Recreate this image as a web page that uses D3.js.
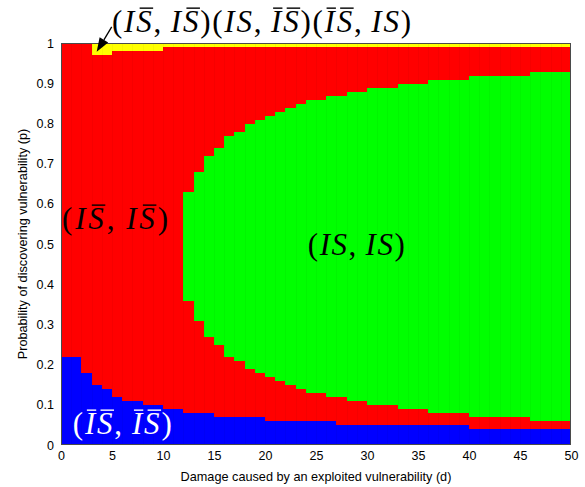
<!DOCTYPE html>
<html>
<head>
<meta charset="utf-8">
<script src="https://cdn.jsdelivr.net/npm/d3@7"></script>
<style>
    body { margin: 0; background: #fff; }
    .axis text { font-family: "Liberation Sans", Arial, sans-serif; font-size: 12.5px; fill: #000; }
    .axis-label { font-family: "Liberation Sans", Arial, sans-serif; font-size: 12.7px; fill: #000; }
    .math { font-family: "Liberation Serif", "Times New Roman", serif; font-size: 31px; white-space: pre; }
</style>
</head>
<body>
<div id="region-chart" style="width:585px;height:487px;"></div>
<script>

// damage d (left edge of each cell, cells are 1 unit wide)
const damage = [0, 1, 2, 3, 4, 5, 6, 7, 8, 9,
    10, 11, 12, 13, 14, 15, 16, 17, 18, 19,
    20, 21, 22, 23, 24, 25, 26, 27, 28, 29,
    30, 31, 32, 33, 34, 35, 36, 37, 38, 39,
    40, 41, 42, 43, 44, 45, 46, 47, 48, 49];

// upper edge of the (I-bar S-bar, I-bar S-bar) region
const blueTop = [0.22, 0.22, 0.18, 0.15, 0.14, 0.12, 0.11, 0.11, 0.10, 0.10,
    0.09, 0.09, 0.08, 0.08, 0.08, 0.07, 0.07, 0.07, 0.07, 0.07,
    0.06, 0.06, 0.06, 0.06, 0.06, 0.06, 0.06, 0.05, 0.05, 0.05,
    0.05, 0.05, 0.05, 0.05, 0.05, 0.05, 0.05, 0.05, 0.05, 0.05,
    0.04, 0.04, 0.04, 0.04, 0.04, 0.04, 0.04, 0.04, 0.04, 0.04];

// lower / upper edge of the (IS, IS) region
const greenBottom = [null, null, null, null, null, null, null, null, null, null,
    null, null, 0.36, 0.31, 0.27, 0.25, 0.22, 0.21, 0.19, 0.18,
    0.17, 0.16, 0.15, 0.14, 0.13, 0.13, 0.12, 0.12, 0.11, 0.11,
    0.10, 0.10, 0.10, 0.09, 0.09, 0.09, 0.08, 0.08, 0.08, 0.08,
    0.07, 0.07, 0.07, 0.07, 0.07, 0.07, 0.06, 0.06, 0.06, 0.06];

const greenTop = [null, null, null, null, null, null, null, null, null, null,
    null, null, 0.63, 0.68, 0.72, 0.74, 0.77, 0.78, 0.80, 0.81,
    0.82, 0.83, 0.84, 0.85, 0.86, 0.86, 0.87, 0.87, 0.88, 0.88,
    0.89, 0.89, 0.89, 0.90, 0.90, 0.90, 0.91, 0.91, 0.91, 0.91,
    0.92, 0.92, 0.92, 0.92, 0.92, 0.92, 0.93, 0.93, 0.93, 0.93];

// lower edge of the mixed-equilibria strip at p close to 1
const yellowBottom = [1, 1, 1, 0.97, 0.97, 0.98, 0.98, 0.98, 0.98, 0.98,
    0.99, 0.99, 0.99, 0.99, 0.99, 0.99, 0.99, 0.99, 0.99, 0.99,
    0.99, 0.99, 0.99, 0.99, 0.99, 0.99, 0.99, 0.99, 0.99, 0.99,
    0.99, 0.99, 0.99, 0.99, 0.99, 0.99, 0.99, 0.99, 0.99, 0.99,
    0.99, 0.99, 0.99, 0.99, 0.99, 0.99, 0.99, 0.99, 0.99, 0.99];

const xTicks = [0, 5, 10, 15, 20, 25, 30, 35, 40, 45, 50];
const yTicks = [0, 0.1, 0.2, 0.3, 0.4, 0.5, 0.6, 0.7, 0.8, 0.9, 1];

// region labels, "~" puts a bar over the next letter
const regionLabels = [
    {text: "(I~S,\u2009I~S)(IS,\u2009~I~S)(~I~S,\u2009IS)", d: 5.0, p: 1.027, width: 299, fill: "#000"},
    {text: "(I~S,\u2009I~S)", d: 0.1, p: 0.537, width: 106, fill: "#000"},
    {text: "(IS,\u2009IS)", d: 24.2, p: 0.473, width: 97, fill: "#000"},
    {text: "(~I~S,\u2009~I~S)", d: 1.15, p: 0.027, width: 99, fill: "#fff"}
];


class RegionVis {

    constructor(parentElement) {
        this.parentElement = parentElement;
        this.colors = {blue: "#0000ff", red: "#ff0000", green: "#00ff00", yellow: "#ffff00"};
        this.initVis();
    }

    initVis() {
        let vis = this;

        vis.margin = {top: 43, right: 14, bottom: 42, left: 61};
        vis.width = 585 - vis.margin.left - vis.margin.right;
        vis.height = 487 - vis.margin.top - vis.margin.bottom;

        vis.svg = d3.select("#" + vis.parentElement).append("svg")
            .attr("width", vis.width + vis.margin.left + vis.margin.right)
            .attr("height", vis.height + vis.margin.top + vis.margin.bottom)
            .append("g")
            .attr("transform", `translate(${vis.margin.left}, ${vis.margin.top})`);

        vis.x = d3.scaleLinear().domain([0, 50]).range([0, vis.width]);
        vis.y = d3.scaleLinear().domain([0, 1]).range([vis.height, 0]);

        vis.xAxis = d3.axisBottom(vis.x).tickValues(xTicks).tickSize(0).tickPadding(6)
            .tickFormat(d => String(d));
        vis.yAxis = d3.axisLeft(vis.y).tickValues(yTicks).tickSize(0).tickPadding(7)
            .tickFormat(d => String(d));

        vis.wrangleData();
    }

    wrangleData() {
        let vis = this;

        // stack the regions of each column from p = 0 to p = 1
        vis.cells = [];
        damage.forEach((d, i) => {
            let edges = [{p: 0, color: "blue"}, {p: blueTop[i], color: "red"}];
            if (greenBottom[i] !== null) {
                edges.push({p: greenBottom[i], color: "green"});
                edges.push({p: greenTop[i], color: "red"});
            }
            edges.push({p: yellowBottom[i], color: "yellow"});
            edges.push({p: 1, color: null});

            for (let k = 0; k < edges.length - 1; k++) {
                if (edges[k + 1].p > edges[k].p) {
                    vis.cells.push({d: d, p0: edges[k].p, p1: edges[k + 1].p, color: edges[k].color});
                }
            }
        });

        vis.updateVis();
    }

    updateVis() {
        let vis = this;

        vis.svg.selectAll(".cell")
            .data(vis.cells)
            .enter().append("rect")
            .attr("class", "cell")
            .attr("x", d => vis.x(d.d))
            .attr("width", vis.x(1) - vis.x(0) + 0.4)
            .attr("y", d => vis.y(d.p1))
            .attr("height", d => vis.y(d.p0) - vis.y(d.p1) + 0.4)
            .attr("fill", d => vis.colors[d.color])
            .attr("shape-rendering", "crispEdges");

        // faint cell borders like the pcolor output
        vis.svg.selectAll(".col-line")
            .data(damage.slice(1))
            .enter().append("line")
            .attr("class", "col-line")
            .attr("x1", d => Math.round(vis.x(d)) + 0.5)
            .attr("x2", d => Math.round(vis.x(d)) + 0.5)
            .attr("y1", 0)
            .attr("y2", vis.height)
            .attr("stroke", "rgba(0,0,0,0.035)");

        vis.svg.append("rect")
            .attr("x", 0.5)
            .attr("y", 0.5)
            .attr("width", vis.width - 1)
            .attr("height", vis.height - 1)
            .attr("fill", "none")
            .attr("stroke", "#4a4a4a")
            .attr("stroke-width", 1);

        vis.svg.append("g")
            .attr("class", "x-axis axis")
            .attr("transform", `translate(0, ${vis.height})`)
            .call(vis.xAxis)
            .call(g => g.select(".domain").remove());

        vis.svg.append("g")
            .attr("class", "y-axis axis")
            .call(vis.yAxis)
            .call(g => g.select(".domain").remove());

        vis.svg.append("text")
            .attr("class", "axis-label")
            .attr("x", vis.width / 2)
            .attr("y", vis.height + 36)
            .attr("text-anchor", "middle")
            .text("Damage caused by an exploited vulnerability (d)");

        vis.svg.append("text")
            .attr("class", "axis-label")
            .attr("transform", `translate(${27 - vis.margin.left}, ${vis.height / 2}) rotate(-90)`)
            .attr("text-anchor", "middle")
            .text("Probability of discovering vulnerability (p)");

        regionLabels.forEach(lbl => vis.drawMath(lbl));

        // arrow pointing at the small yellow cell
        let tail = [vis.x(4.97), vis.y(1.04)];
        let tip = [vis.x(3.5), vis.y(0.978)];
        let ang = Math.atan2(tip[1] - tail[1], tip[0] - tail[0]);
        let headLen = 14, headW = 5;
        let base = [tip[0] - headLen * Math.cos(ang), tip[1] - headLen * Math.sin(ang)];
        vis.svg.append("line")
            .attr("x1", tail[0]).attr("y1", tail[1])
            .attr("x2", base[0]).attr("y2", base[1])
            .attr("stroke", "#000").attr("stroke-width", 1.3);
        vis.svg.append("path")
            .attr("d", d3.line()([
                tip,
                [base[0] + headW * Math.sin(ang), base[1] - headW * Math.cos(ang)],
                [base[0] - headW * Math.sin(ang), base[1] + headW * Math.cos(ang)]
            ]) + "Z")
            .attr("fill", "#000");
    }

    drawMath(lbl) {
        let vis = this;

        let chars = [];
        let bar = false;
        for (const ch of lbl.text) {
            if (ch === "~") { bar = true; continue; }
            chars.push({ch: ch, bar: bar});
            bar = false;
        }

        let x0 = vis.x(lbl.d), y0 = vis.y(lbl.p);
        let text = vis.svg.append("text")
            .attr("class", "math")
            .attr("x", x0)
            .attr("y", y0)
            .attr("fill", lbl.fill)
            .attr("textLength", lbl.width)
            .attr("lengthAdjust", "spacing");

        chars.forEach(c => {
            text.append("tspan")
                .style("font-style", /[A-Z]/.test(c.ch) ? "italic" : "normal")
                .text(c.ch);
        });

        // bar over the glyph box, nudged right for the italic slant
        let node = text.node();
        chars.forEach((c, i) => {
            if (!c.bar) return;
            let ext = node.getExtentOfChar(i);
            let x1 = c.ch === "I" ? ext.x + 2 : ext.x + 3.5;
            let x2 = c.ch === "I" ? ext.x + ext.width + 1 : ext.x + ext.width + 1.5;
            vis.svg.append("line")
                .attr("x1", x1)
                .attr("x2", x2)
                .attr("y1", y0 - 24)
                .attr("y2", y0 - 24)
                .attr("stroke", lbl.fill)
                .attr("stroke-width", 1.4);
        });
    }
}

new RegionVis("region-chart");

</script>
</body>
</html>
